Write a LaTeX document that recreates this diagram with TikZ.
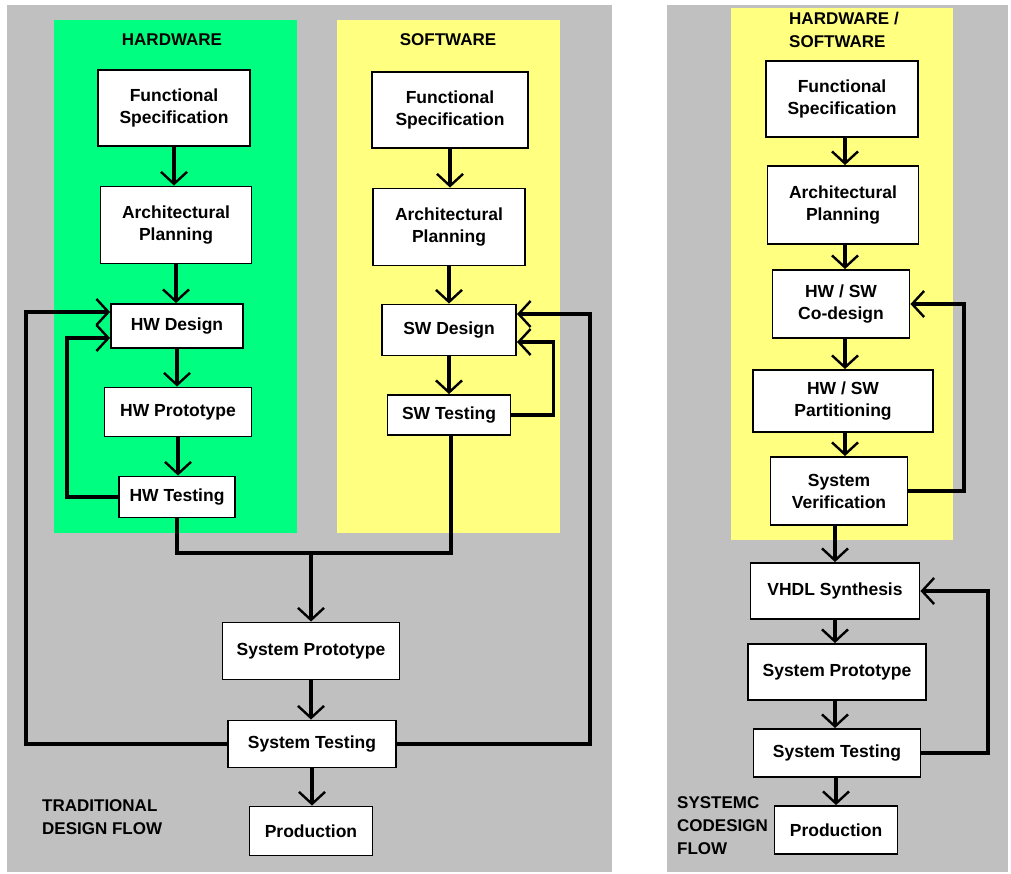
\documentclass[tikz,border=0pt]{standalone}
\usepackage{fontspec}
\setmainfont{Liberation Sans}
\usetikzlibrary{arrows.meta,calc}
\definecolor{panelgray}{RGB}{192,192,192}
\definecolor{hwgreen}{RGB}{0,255,128}
\definecolor{swyellow}{RGB}{255,255,128}
\begin{document}
\begin{tikzpicture}[x=1pt,y=-1pt,
  box/.style={draw=black,fill=white,line width=1.9pt,align=center,inner sep=0pt,
    font=\fontsize{17.5}{22}\selectfont\bfseries},
  lbl/.style={align=left,inner sep=0pt,font=\fontsize{17}{23}\selectfont\bfseries},
  hdr/.style={inner sep=0pt,font=\fontsize{17}{23}\selectfont\bfseries},
  flow/.style={line width=3.2pt,line join=miter},
  arr/.style={flow,-{Straight Barb[length=12pt,width=26pt,line width=2.4pt]}}]
\useasboundingbox (0,0) rectangle (1011,873);
\fill[white] (0,0) rectangle (1011,873);
% background panels
\fill[panelgray] (7,5) rectangle (612,872);
\fill[panelgray] (667,5) rectangle (1008,872);
\fill[hwgreen] (54,20) rectangle (297,533);
\fill[swyellow] (337,20) rectangle (560,533);
\fill[swyellow] (731,8) rectangle (953,540);
% headers
\node[hdr] (hhw) at (172,40) {HARDWARE};
\node[hdr] (hsw) at (448,40) {SOFTWARE};
\node[hdr,align=left,anchor=north west] (hhs) at (789,12) {HARDWARE /\\SOFTWARE};
% traditional flow: hardware column
\node[box,minimum width=152pt,minimum height=76pt] (hwfs) at (174,108) {Functional\\Specification};
\node[box,minimum width=151pt,minimum height=77pt] (hwap) at (176,225) {Architectural\\Planning};
\node[box,minimum width=132pt,minimum height=44pt] (hwd) at (177,326) {HW Design};
\node[box,minimum width=147pt,minimum height=49pt] (hwp) at (178,412) {HW Prototype};
\node[box,minimum width=116pt,minimum height=41pt] (hwt) at (177,497) {HW Testing};
% traditional flow: software column
\node[box,minimum width=156pt,minimum height=76pt] (swfs) at (450,110) {Functional\\Specification};
\node[box,minimum width=152pt,minimum height=77pt] (swap) at (449,227) {Architectural\\Planning};
\node[box,minimum width=134pt,minimum height=51pt] (swd) at (449,330) {SW Design};
\node[box,minimum width=123pt,minimum height=40pt] (swt) at (449,415) {SW Testing};
% traditional flow: system
\node[box,minimum width=177pt,minimum height=57pt] (sproto) at (311,651) {System Prototype};
\node[box,minimum width=168pt,minimum height=47pt] (stest) at (312,744) {System Testing};
\node[box,minimum width=123pt,minimum height=49pt] (sprod) at (311,831) {Production};
\node[lbl,anchor=west] (tlab) at (42,817) {TRADITIONAL\\DESIGN FLOW};
% codesign flow
\node[box,minimum width=152pt,minimum height=76pt] (rfs) at (842,99) {Functional\\Specification};
\node[box,minimum width=151pt,minimum height=78pt] (rap) at (843,205) {Architectural\\Planning};
\node[box,minimum width=137pt,minimum height=68pt] (rcod) at (841,304) {HW / SW\\Co-design};
\node[box,minimum width=180pt,minimum height=62pt] (rpart) at (843,401) {HW / SW\\Partitioning};
\node[box,minimum width=137pt,minimum height=68pt] (rver) at (839,491) {System\\Verification};
\node[box,minimum width=169pt,minimum height=56pt] (rvhdl) at (835,591) {VHDL Synthesis};
\node[box,minimum width=178pt,minimum height=56pt] (rproto) at (837,672) {System Prototype};
\node[box,minimum width=167pt,minimum height=48pt] (rtest) at (837,753) {System Testing};
\node[box,minimum width=123pt,minimum height=48pt] (rprod) at (836,830) {Production};
\node[lbl,anchor=west] (clab) at (677,826) {SYSTEMC\\CODESIGN\\FLOW};
% junction where both testing branches meet
\coordinate (mj) at (311,553);
% hardware chain
\draw[arr] (hwfs.south) -- (hwfs.south |- hwap.north);
\draw[arr] (hwap.south) -- (hwap.south |- hwd.north);
\draw[arr] (hwd.south) -- (hwd.south |- hwp.north);
\draw[arr] (hwp.south) -- (hwp.south |- hwt.north);
\draw[arr] (hwt.west) -- ++(-51,0) |- ($(hwd.west)+(0,12)$);
% software chain
\draw[arr] (swfs.south) -- (swfs.south |- swap.north);
\draw[arr] (swap.south) -- (swap.south |- swd.north);
\draw[arr] (swd.south) -- (swd.south |- swt.north);
\draw[arr] (swt.east) -- ++(42,0) |- ($(swd.east)+(0,12)$);
% merge into system prototype
\draw[flow] (hwt.south) |- (mj) -| ([xshift=2pt]swt.south);
\draw[arr] (mj) -- (sproto.north);
\draw[arr] (sproto.south) -- (sproto.south |- stest.north);
\draw[arr] (stest.south) -- (stest.south |- sprod.north);
% system testing feedback to both design steps
\draw[arr] (stest.west) -- (26,744) |- ($(hwd.west)+(0,-14)$);
\draw[arr] (stest.east) -- (590,744) |- ($(swd.east)+(0,-16)$);
% codesign chain
\draw[arr] ([xshift=3pt]rfs.south) -- ([xshift=3pt]rfs.south |- rap.north);
\draw[arr] ([xshift=2pt]rap.south) -- ([xshift=2pt]rap.south |- rcod.north);
\draw[arr] ([xshift=4pt]rcod.south) -- ([xshift=4pt]rcod.south |- rpart.north);
\draw[arr] ([xshift=2pt]rpart.south) -- ([xshift=2pt]rpart.south |- rver.north);
\draw[arr] (rver.east) -- (964,491) |- (rcod.east);
\draw[arr] ([xshift=-4pt]rver.south) -- ([xshift=-4pt]rver.south |- rvhdl.north);
\draw[arr] (rvhdl.south) -- (rvhdl.south |- rproto.north);
\draw[arr] ([xshift=-2pt]rproto.south) -- ([xshift=-2pt]rproto.south |- rtest.north);
\draw[arr] ([xshift=-1pt]rtest.south) -- ([xshift=-1pt]rtest.south |- rprod.north);
\draw[arr] (rtest.east) -- (988,753) |- (rvhdl.east);
\end{tikzpicture}
\end{document}
